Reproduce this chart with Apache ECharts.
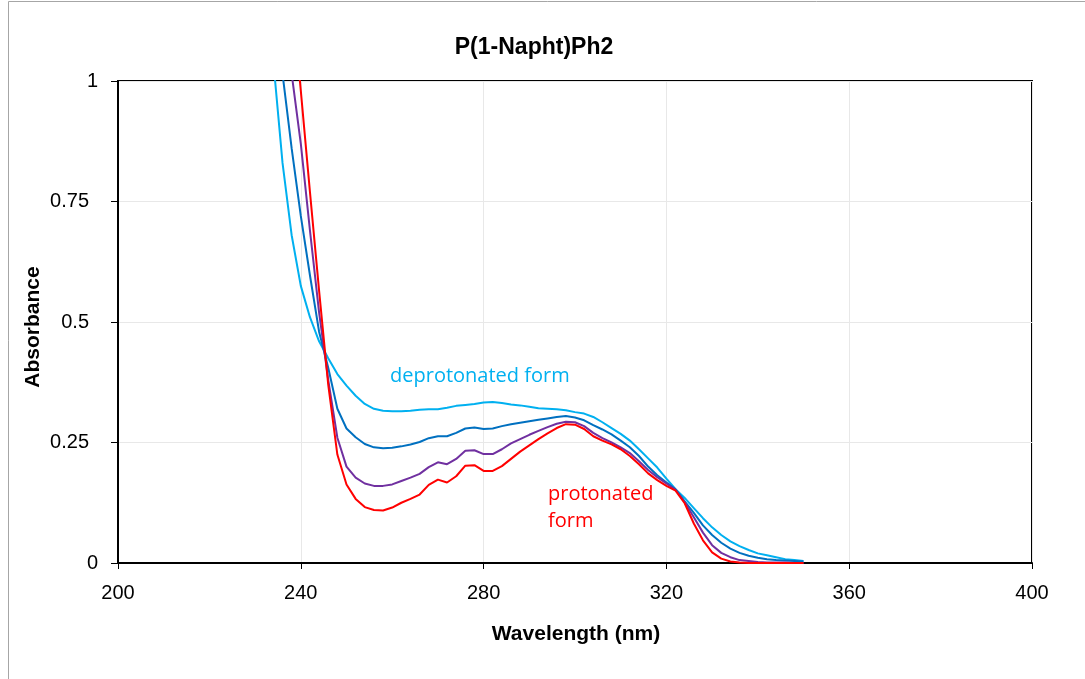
<!DOCTYPE html>
<html>
<head>
<meta charset="utf-8">
<script src="https://cdn.jsdelivr.net/npm/echarts@6/dist/echarts.min.js"></script>
<style>
html,body{margin:0;padding:0;background:#fff;}
#chart{width:1085px;height:679px;}
</style>
</head>
<body>
<div id="chart"></div>
<script>
// Wavelength (nm), 234..350 step 2
const wavelengths = [];
for (let w = 234; w <= 350; w += 2) wavelengths.push(w);

const deprotonated = [1.04,0.83,0.68,0.575,0.51,0.46,0.425,0.392,0.368,0.347,0.33,0.32,0.316,0.315,0.315,0.316,0.318,0.319,0.319,0.322,0.326,0.328,0.33,0.333,0.334,0.332,0.329,0.327,0.324,0.321,0.32,0.319,0.317,0.313,0.31,0.303,0.292,0.28,0.268,0.254,0.236,0.217,0.198,0.175,0.153,0.135,0.114,0.093,0.074,0.058,0.045,0.035,0.027,0.02,0.016,0.012,0.008,0.006,0.004];
const intermediate1 = [1.17,1.015,0.86,0.72,0.597,0.48,0.405,0.32,0.279,0.261,0.247,0.24,0.238,0.239,0.242,0.246,0.251,0.259,0.263,0.263,0.27,0.279,0.281,0.278,0.279,0.284,0.288,0.291,0.294,0.297,0.3,0.303,0.305,0.302,0.296,0.286,0.277,0.267,0.254,0.24,0.222,0.2,0.182,0.167,0.153,0.128,0.104,0.078,0.058,0.042,0.03,0.021,0.015,0.011,0.008,0.006,0.005,0.004,0.003];
const intermediate2 = [null,1.17,1.015,0.87,0.69,0.52,0.38,0.26,0.2,0.177,0.165,0.16,0.16,0.163,0.17,0.177,0.185,0.199,0.209,0.205,0.216,0.233,0.234,0.226,0.226,0.236,0.248,0.257,0.266,0.274,0.282,0.289,0.293,0.292,0.284,0.27,0.259,0.25,0.24,0.228,0.211,0.193,0.178,0.165,0.152,0.126,0.095,0.063,0.037,0.021,0.012,0.006,0.004,0.002,0.001,0.001,0.001,0,0];
const protonated = [null,null,1.185,0.98,0.77,0.565,0.37,0.225,0.163,0.133,0.116,0.11,0.109,0.115,0.125,0.133,0.142,0.162,0.173,0.167,0.18,0.202,0.203,0.191,0.191,0.201,0.216,0.231,0.244,0.257,0.269,0.28,0.288,0.287,0.278,0.263,0.254,0.246,0.236,0.222,0.205,0.186,0.172,0.16,0.15,0.124,0.082,0.047,0.022,0.009,0.003,0.001,0,0,0,0,0,0,0];

const xTicks = {min: 200, max: 400, interval: 40};
const yTicks = {min: 0, max: 1, interval: 0.25};

function pairs(vals){ return wavelengths.map((w,i)=>[w, vals[i]]); }

const FONT = 'Liberation Sans';
const chart = echarts.init(document.getElementById('chart'), null, {renderer:'canvas'});

function mk(name, vals, color, z){
  return {name, type:'line', data:pairs(vals), showSymbol:false, symbol:'none',
    lineStyle:{color, width:2}, itemStyle:{color}, z, clip:true, connectNulls:false};
}

chart.setOption({
  animation:false,
  backgroundColor:'#fff',
  grid:{left:118, top:81, right:53, bottom:116, show:true, borderColor:'#000', borderWidth:2},
  xAxis:{type:'value', min:xTicks.min, max:xTicks.max, interval:xTicks.interval,
    axisLine:{onZero:false, lineStyle:{color:'#000', width:2}},
    axisTick:{show:true, inside:false, length:6, lineStyle:{color:'#000', width:1}},
    axisLabel:{fontFamily:FONT, fontSize:20, color:'#000', margin:20},
    splitLine:{show:true, lineStyle:{color:'#e8e8e8', width:1}}},
  yAxis:{type:'value', min:yTicks.min, max:yTicks.max, interval:yTicks.interval,
    axisLine:{show:true, lineStyle:{color:'#000', width:2}},
    axisTick:{show:true, inside:false, length:7, lineStyle:{color:'#000', width:1}},
    axisLabel:{fontFamily:FONT, fontSize:20, color:'#000', margin:20,
      formatter:function(v){ return Number.isInteger(v) ? '{i|' + v + '}' : '{d|' + v + '}'; },
      rich:{i:{fontFamily:FONT, fontSize:20, color:'#000'},
            d:{fontFamily:FONT, fontSize:20, color:'#000', padding:[0,9,0,0]}}},
    splitLine:{show:true, lineStyle:{color:'#e8e8e8', width:1}}},
  series:[
    mk('deprotonated', deprotonated, '#00B0F0', 2),
    mk('intermediate 1', intermediate1, '#0070C0', 3),
    mk('intermediate 2', intermediate2, '#7030A0', 4),
    mk('protonated', protonated, '#FF0000', 5)
  ],
  graphic:[
    {type:'rect', shape:{x:8.5, y:1.5, width:1100, height:700}, style:{fill:null, stroke:'#a6a6a6', lineWidth:1}, silent:true, z:-10},
    {type:'text', x:534, y:48, style:{text:'P(1-Napht)Ph2', font:'bold 23px "Liberation Sans"', fill:'#000', textAlign:'center', textVerticalAlign:'middle'}, z:10},
    {type:'text', x:576, y:634, style:{text:'Wavelength (nm)', font:'bold 21px "Liberation Sans"', fill:'#000', textAlign:'center', textVerticalAlign:'middle'}, z:10},
    {type:'text', x:33, y:327, rotation:Math.PI/2, style:{text:'Absorbance', font:'bold 21px "Liberation Sans"', fill:'#000', textAlign:'center', textVerticalAlign:'middle'}, z:10},
    {type:'text', x:390, y:376, style:{text:'deprotonated form', font:'20px "Open Sans"', fill:'#00B0F0', textVerticalAlign:'middle'}, z:10},
    {type:'text', x:548, y:494, style:{text:'protonated', font:'20px "Open Sans"', fill:'#FF0000', textVerticalAlign:'middle'}, z:10},
    {type:'text', x:548, y:521, style:{text:'form', font:'20px "Open Sans"', fill:'#FF0000', textVerticalAlign:'middle'}, z:10}
  ]
});
</script>
</body>
</html>
